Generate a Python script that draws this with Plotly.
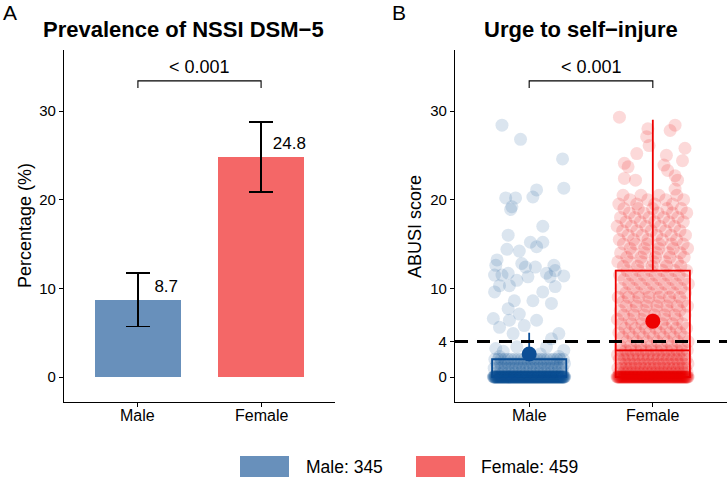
import numpy as np
import plotly.graph_objects as go

W, H = 728, 479
FONT = "Liberation Sans, Arial, sans-serif"

# ---------------- data ----------------
categories = ["Male", "Female"]
group_n = [345, 459]
prevalence = [8.7, 24.8]
ci_low = [5.7, 20.9]
ci_high = [11.7, 28.75]
p_value_text = "< 0.001"
threshold = 4

# ABUSI: individually readable (sparse) points, value + jitter offset
male_sparse_vals = [28.4, 26.8, 24.6, 21.3, 20.2, 20.2, 20.3, 21.1, 18.9, 19.2, 17.0, 16.0, 15.2, 15.2,
                    14.7, 14.4, 14.2, 13.2, 12.6, 12.8, 12.4, 12.4, 12.6, 12.0, 11.5, 11.5, 11.7, 11.3,
                    11.7, 11.4, 11.3, 10.3, 10.3, 10.9, 10.2, 9.6, 9.6, 8.6, 8.6, 8.3, 7.7, 7.1, 6.6,
                    6.4, 6.4, 5.6, 5.8, 4.9, 4.9, 4.3, 3.2, 2.9, 3.0, 2.3, 2.3, 2.6, 3.4, 3.4]
male_sparse_jit = [-0.22, -0.07, 0.27, 0.28, -0.19, -0.11, 0.03, 0.06, -0.15, -0.14, 0.11, -0.17, 0.01, 0.11,
                   0.06, -0.18, -0.08, -0.26, -0.27, -0.06, -0.03, 0.05, 0.20, 0.21, -0.28, -0.22, -0.17, -0.01,
                   0.14, 0.28, 0.17, -0.24, -0.16, -0.10, 0.21, -0.28, 0.11, -0.12, 0.03, 0.18, -0.17, -0.08, -0.29,
                   -0.16, 0.06, -0.24, -0.04, -0.13, 0.24, 0.18, -0.27, -0.21, 0.28, 0.24, -0.24, 0.09, -0.10, 0.14]
# dense part: score -> count
male_dense_scores = [0, 0.5, 1, 1.5, 2]
male_dense_counts = [215, 12, 20, 18, 22]

female_sparse_vals = [29.3, 28.0, 28.4, 27.8, 27.1, 26.1, 25.8, 25.2, 25.0, 24.4, 24.1, 23.7, 23.9, 23.3,
                      22.7, 22.2, 22.4, 22.2, 21.2]
female_sparse_jit = [-0.27, -0.04, 0.18, 0.14, -0.05, -0.03, 0.26, -0.13, 0.11, 0.24, -0.23, -0.20, 0.09, 0.12,
                     0.18, 0.20, -0.23, -0.14, 0.18]
female_dense_scores = [0, 0.5, 1, 1.5, 2, 2.5, 3, 3.5, 4, 4.5, 5, 5.5, 6, 6.5, 7, 7.5, 8, 8.5, 9, 9.5, 10,
                       10.5, 11, 11.5, 12, 12.5, 13, 13.5, 14, 14.5, 15, 15.5, 16, 16.5, 17, 17.5, 18, 18.5,
                       19, 19.5, 20, 20.5]
female_dense_counts = [144, 18, 18, 15, 15, 14, 14, 7, 7, 7, 7, 7, 7, 6, 7, 6, 7, 6, 7, 6, 6,
                       6, 6, 6, 6, 5, 6, 5, 6, 5, 6, 5, 5, 5, 5, 5, 5, 5,
                       5, 4, 4, 4]

# box statistics and means
box_q1 = [0, 0]
box_median = [0, 3]
box_q3 = [2.0, 12.0]
box_upper = [5.0, 29.0]
box_lower = [0, 0]
score_mean = [2.6, 6.3]

male_bar_col = "#6890BB"
female_bar_col = "#F46767"
male_col = (12, 78, 150)
female_col = (238, 0, 0)


def dense_points(scores, counts, center):
    """Spread each row of equal scores evenly across the jitter width, with a row-dependent phase."""
    xs, ys = [], []
    for k, (s, c) in enumerate(zip(scores, counts)):
        phase = (k * 0.6180339887) % 1.0
        frac = ((np.arange(c) + phase) / c) % 1.0
        xs.extend(center - 0.29 + 0.58 * frac)
        ys.extend([s] * c)
    return xs, ys


fig = go.Figure()

# ---------------- panel A ----------------
fig.add_trace(go.Bar(
    x=[1, 2], y=prevalence, width=0.7,
    marker=dict(color=[male_bar_col, female_bar_col], line=dict(width=0)),
    error_y=dict(type="data", symmetric=False,
                 array=[h - p for h, p in zip(ci_high, prevalence)],
                 arrayminus=[p - l for l, p in zip(ci_low, prevalence)],
                 color="black", thickness=1.8, width=12),
    xaxis="x", yaxis="y", showlegend=False, hoverinfo="skip"))

fig.add_trace(go.Scatter(
    x=[1.23, 2.23], y=[p + 1.37 for p in prevalence], mode="text",
    text=[f"{p:.1f}" for p in prevalence], textposition="middle center",
    textfont=dict(family=FONT, size=17, color="black"),
    xaxis="x", yaxis="y", showlegend=False, hoverinfo="skip"))

# ---------------- panel B ----------------
for gi, (sv, sj, ds, dc, col) in enumerate([
        (male_sparse_vals, male_sparse_jit, male_dense_scores, male_dense_counts, male_col),
        (female_sparse_vals, female_sparse_jit, female_dense_scores, female_dense_counts, female_col)]):
    center = gi + 1
    dx, dy = dense_points(ds, dc, center)
    xs = list(dx) + [center + j for j in sj]
    ys = list(dy) + list(sv)
    fig.add_trace(go.Scatter(
        x=xs, y=ys, mode="markers",
        marker=dict(size=13, color="rgba(%d,%d,%d,0.15)" % col, line=dict(width=0)),
        xaxis="x2", yaxis="y2", showlegend=False, hoverinfo="skip"))

for gi, col in enumerate([male_col, female_col]):
    c = "rgb(%d,%d,%d)" % col
    fig.add_trace(go.Box(
        x=[gi + 1], q1=[box_q1[gi]], median=[box_median[gi]], q3=[box_q3[gi]],
        lowerfence=[box_lower[gi]], upperfence=[box_upper[gi]],
        width=0.6, whiskerwidth=0, boxpoints=False,
        line=dict(color=c, width=1.8), fillcolor="rgba(0,0,0,0)",
        xaxis="x2", yaxis="y2", showlegend=False, hoverinfo="skip"))

fig.add_trace(go.Scatter(
    x=[1, 2], y=score_mean, mode="markers",
    marker=dict(size=15, color=["rgb(%d,%d,%d)" % male_col, "rgb(%d,%d,%d)" % female_col], line=dict(width=0)),
    xaxis="x2", yaxis="y2", showlegend=False, hoverinfo="skip"))

# ---------------- layout ----------------
y_dom = [1 - 402 / H, 1 - 50 / H]
yrange = [-2.82, 36.88]
axis_common = dict(showline=True, linecolor="black", linewidth=1.3, ticks="outside", ticklen=4,
                   tickcolor="black", tickwidth=1.1, showgrid=False, zeroline=False,
                   fixedrange=True)
xax = dict(axis_common, range=[0.4, 2.6], tickvals=[1, 2], ticktext=categories, showticklabels=False)
yax = dict(axis_common, range=yrange, domain=y_dom,
           tickfont=dict(family=FONT, size=15, color="black"))

fig.update_layout(
    width=W, height=H, margin=dict(l=0, r=0, t=0, b=0),
    paper_bgcolor="white", plot_bgcolor="white",
    xaxis=dict(xax, domain=[64 / W, 335 / W], anchor="y"),
    yaxis=dict(yax, tickvals=[0, 10, 20, 30], anchor="x"),
    xaxis2=dict(xax, domain=[455 / W, 727 / W], anchor="y2"),
    yaxis2=dict(yax, tickvals=[0, 4, 10, 20, 30], anchor="x2"),
    bargap=0, showlegend=False,
)

shapes = []
annotations = []

# significance brackets and category labels
for xr, yr in [("x", "y"), ("x2", "y2")]:
    shapes.append(dict(type="path", xref=xr, yref=yr,
                       path="M 1,32.6 L 1,33.4 L 2,33.4 L 2,32.6",
                       line=dict(color="black", width=1.1)))
    annotations.append(dict(xref=xr, yref=yr, x=1.5, y=34.95, text=p_value_text, showarrow=False,
                            font=dict(family=FONT, size=18, color="black"),
                            xanchor="center", yanchor="middle"))
    for ci, cat in enumerate(categories):
        annotations.append(dict(xref=xr, yref="paper", x=ci + 1, y=1 - 415 / H, text=cat,
                                showarrow=False, font=dict(family=FONT, size=16, color="black"),
                                xanchor="center", yanchor="middle"))

# threshold line
shapes.append(dict(type="line", xref="x2 domain", yref="y2", x0=0, x1=1, y0=threshold, y1=threshold,
                   line=dict(color="black", width=3, dash="13px,9px")))

# titles and panel labels
annotations += [
    dict(xref="paper", yref="paper", x=183.5 / W, y=1 - 30 / H, text="<b>Prevalence of NSSI DSM−5</b>",
         showarrow=False, font=dict(family=FONT, size=22, color="black"), xanchor="center", yanchor="middle"),
    dict(xref="paper", yref="paper", x=580.5 / W, y=1 - 30 / H, text="<b>Urge to self−injure</b>",
         showarrow=False, font=dict(family=FONT, size=22, color="black"), xanchor="center", yanchor="middle"),
    dict(xref="paper", yref="paper", x=10 / W, y=1 - 12 / H, text="A", showarrow=False,
         font=dict(family=FONT, size=21, color="black"), xanchor="center", yanchor="middle"),
    dict(xref="paper", yref="paper", x=399 / W, y=1 - 12 / H, text="B", showarrow=False,
         font=dict(family=FONT, size=21, color="black"), xanchor="center", yanchor="middle"),
    dict(xref="paper", yref="paper", x=25 / W, y=1 - 226 / H, text="Percentage (%)", textangle=-90,
         showarrow=False, font=dict(family=FONT, size=18, color="black"), xanchor="center", yanchor="middle"),
    dict(xref="paper", yref="paper", x=415 / W, y=1 - 227 / H, text="ABUSI score", textangle=-90,
         showarrow=False, font=dict(family=FONT, size=18, color="black"), xanchor="center", yanchor="middle"),
]

# manual legend
leg_items = [(f"{categories[0]}: {group_n[0]}", male_bar_col, 240, 304),
             (f"{categories[1]}: {group_n[1]}", female_bar_col, 416, 479)]
for label, col, bx, tx in leg_items:
    shapes.append(dict(type="rect", xref="paper", yref="paper", x0=bx / W, x1=(bx + 49) / W,
                       y0=1 - 477 / H, y1=1 - 456 / H, fillcolor=col, line=dict(width=0)))
    annotations.append(dict(xref="paper", yref="paper", x=tx / W, y=1 - 466.5 / H, text=label,
                            showarrow=False, font=dict(family=FONT, size=17.5, color="black"),
                            xanchor="left", yanchor="middle"))

fig.update_layout(shapes=shapes, annotations=annotations)
fig.write_html("out.html")
